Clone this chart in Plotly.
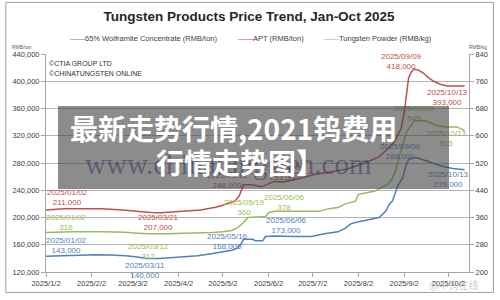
import plotly.graph_objects as go

# ---------------- DATA ----------------
wolf_dates = ['2025-01-02', '2025-01-15', '2025-01-25', '2025-02-05', '2025-02-15', '2025-02-25',
              '2025-03-05', '2025-03-11', '2025-03-20', '2025-03-28', '2025-04-05', '2025-04-15',
              '2025-04-25', '2025-05-02', '2025-05-08', '2025-05-12', '2025-05-14', '2025-05-16',
              '2025-05-22', '2025-05-24', '2025-05-29', '2025-05-31', '2025-06-06', '2025-06-20',
              '2025-07-01', '2025-07-10', '2025-07-19', '2025-07-24', '2025-07-28', '2025-08-03',
              '2025-08-10', '2025-08-16', '2025-08-19', '2025-08-21', '2025-08-23', '2025-08-25',
              '2025-08-27', '2025-08-29', '2025-09-01', '2025-09-03', '2025-09-05', '2025-09-09',
              '2025-09-12', '2025-09-16', '2025-09-20', '2025-09-25', '2025-09-30', '2025-10-05',
              '2025-10-13']
wolf_values = [143000, 144000, 145500, 145500, 145000, 144000,
               142000, 140000, 140000, 141000, 142500, 144000,
               147000, 150000, 152000, 155000, 160000, 168000,
               168000, 166000, 166000, 172000, 173000, 172000,
               172000, 176000, 179000, 184000, 191000, 194000,
               197000, 200000, 206000, 211000, 220000, 224000,
               236000, 248000, 258000, 275000, 285000, 288000,
               287000, 284000, 280000, 277000, 274000, 272000,
               270000]

apt_dates = ['2025-01-02', '2025-01-14', '2025-01-27', '2025-02-09', '2025-02-23', '2025-03-05',
             '2025-03-14', '2025-03-21', '2025-04-02', '2025-04-17', '2025-04-27', '2025-05-02',
             '2025-05-10', '2025-05-13', '2025-05-16', '2025-05-22', '2025-05-28', '2025-06-02',
             '2025-06-06', '2025-06-12', '2025-06-21', '2025-07-03', '2025-07-13', '2025-07-25',
             '2025-08-05', '2025-08-16', '2025-08-21', '2025-08-25', '2025-08-27', '2025-08-31',
             '2025-09-02', '2025-09-03', '2025-09-04', '2025-09-05', '2025-09-07', '2025-09-09',
             '2025-09-12', '2025-09-15', '2025-09-18', '2025-09-22', '2025-09-26', '2025-10-01',
             '2025-10-13']
apt_values = [211000, 213000, 213000, 213000, 211000, 209000,
              207500, 207000, 209000, 211000, 215000, 218000,
              224000, 231000, 248000, 248000, 245000, 249000,
              253000, 252000, 256000, 263000, 267000, 271000,
              279000, 289000, 299000, 307000, 314000, 331000,
              353000, 371000, 391000, 405000, 414000, 418000,
              416000, 412000, 406000, 400000, 396000, 393000,
              393000]

powder_dates = ['2025-01-02', '2025-01-20', '2025-02-10', '2025-02-25', '2025-03-05', '2025-03-12',
                '2025-03-25', '2025-04-10', '2025-04-25', '2025-05-02', '2025-05-08', '2025-05-12',
                '2025-05-16', '2025-05-19', '2025-05-31', '2025-06-02', '2025-06-06', '2025-07-06',
                '2025-07-13', '2025-07-19', '2025-07-24', '2025-07-31', '2025-08-02', '2025-08-09',
                '2025-08-13', '2025-08-17', '2025-08-20', '2025-08-22', '2025-08-25', '2025-08-27',
                '2025-08-31', '2025-09-02', '2025-09-04', '2025-09-07', '2025-09-09', '2025-09-17',
                '2025-09-21', '2025-09-25', '2025-09-30', '2025-10-08', '2025-10-13']
powder_values = [316, 318, 318, 317, 314, 312,
                 312, 313, 316, 318, 322, 330,
                 345, 360, 363, 374, 378, 378,
                 386, 389, 400, 408, 428, 434,
                 437, 446, 452, 458, 475, 494,
                 560, 589, 614, 632, 645, 643,
                 637, 629, 626, 626, 615]

x_tick_dates = ['2025-01-02', '2025-02-02', '2025-03-02', '2025-04-02', '2025-05-02',
                '2025-06-02', '2025-07-02', '2025-08-02', '2025-09-02', '2025-10-02']
x_tick_labels = ['2025/1/2', '2025/2/2', '2025/3/2', '2025/4/2', '2025/5/2',
                 '2025/6/2', '2025/7/2', '2025/8/2', '2025/9/2', '2025/10/2']
left_ticks = [120000, 160000, 200000, 240000, 280000, 320000, 360000, 400000, 440000]
right_ticks = [200, 280, 360, 440, 520, 600, 680, 760, 840]

wolf_label_dates = ['2025-01-02', '2025-03-11', '2025-05-16', '2025-06-06', '2025-09-09', '2025-10-13']
apt_label_dates = ['2025-01-02', '2025-03-21', '2025-05-16', '2025-06-06', '2025-09-09', '2025-10-13']
powder_label_dates = ['2025-01-02', '2025-03-12', '2025-05-19', '2025-06-06', '2025-09-09', '2025-10-13']

series_names = ['65% Wolframite Concentrate (RMB/ton)', 'APT (RMB/ton)', 'Tungsten Powder (RMB/kg)']
title_text = 'Tungsten Products Price Trend, Jan-Oct 2025'

# ---------------- STYLE ----------------
W, H = 500, 300
ML, MR, MT, MB = 42, 26, 54, 22
PW, PH = W - ML - MR, H - MT - MB
BLUE, RED, GREEN = '#4f81bd', '#c0504d', '#9bbb59'
TXT = '#404040'
FONT = 'Liberation Sans, Arial, sans-serif'

# label offsets (pixels) per labelled point
wolf_offsets = [(20, 11), (-1, -12), (-16, -2), (12, 10), (-14, 6), (-16, -10)]
apt_offsets = [(21, 13), (-2, -10), (-16, 4), (10, 9), (-13, 7), (-17, -11)]
powder_offsets = [(20, 10), (1, -18), (-3, 10), (10, 9), (0, 7), (-18, -8)]


def P(x, y):
    return dict(x=(x - ML) / PW, y=(H - MB - y) / PH, xref='paper', yref='paper')


fig = go.Figure()
fig.add_trace(go.Scatter(x=wolf_dates, y=wolf_values, name=series_names[0], mode='lines',
                         line=dict(color=BLUE, width=1.5), yaxis='y', hoverinfo='skip'))
fig.add_trace(go.Scatter(x=apt_dates, y=apt_values, name=series_names[1], mode='lines',
                         line=dict(color=RED, width=1.5), yaxis='y', hoverinfo='skip'))
fig.add_trace(go.Scatter(x=powder_dates, y=powder_values, name=series_names[2], mode='lines',
                         line=dict(color=GREEN, width=1.5), yaxis='y2', hoverinfo='skip'))

annotations = []


def add_labels(dates, values, label_dates, offsets, color, yref, fmt):
    for d, (dx, dy) in zip(label_dates, offsets):
        v = values[dates.index(d)]
        annotations.append(dict(x=d, y=v, xref='x', yref=yref, showarrow=False,
                                text=d.replace('-', '/') + '<br>' + fmt(v),
                                xshift=dx, yshift=dy, font=dict(size=8, color=color, family=FONT)))


add_labels(apt_dates, apt_values, apt_label_dates, apt_offsets, RED, 'y', lambda v: f'{v:,.0f}')
add_labels(powder_dates, powder_values, powder_label_dates, powder_offsets, '#9bbb59', 'y2', lambda v: f'{v:.0f}')
add_labels(wolf_dates, wolf_values, wolf_label_dates, wolf_offsets, BLUE, 'y', lambda v: f'{v:,.0f}')

# copyright
annotations.append(dict(**P(43, 64), text='©CTIA GROUP LTD', showarrow=False, xanchor='left',
                        yanchor='middle', font=dict(size=7, color='#303030', family=FONT)))
annotations.append(dict(**P(43, 74), text='©CHINATUNGSTEN ONLINE', showarrow=False, xanchor='left',
                        yanchor='middle', font=dict(size=7, color='#303030', family=FONT)))
# unit labels
annotations.append(dict(**P(17, 47), text='RMB/ton', showarrow=False, xanchor='center',
                        yanchor='middle', font=dict(size=5, color='#606060', family=FONT)))
annotations.append(dict(**P(483, 47), text='RMB/kg', showarrow=False, xanchor='center',
                        yanchor='middle', font=dict(size=5, color='#606060', family=FONT)))
# legend
for name, col, px in zip(series_names, [BLUE, RED, GREEN], [64, 236, 324]):
    annotations.append(dict(**P(px, 38), showarrow=False, xanchor='left', yanchor='middle',
                            text=f"<span style='color:{col}'>——</span>{name}",
                            font=dict(size=7.5, color=TXT, family=FONT)))
# watermark
annotations.append(dict(**P(228, 167), text='www.chinatungsten.com', showarrow=False,
                        xanchor='center', yanchor='middle',
                        font=dict(size=29, color='rgba(40,40,160,0.55)', family='Liberation Serif, serif')))
annotations.append(dict(**P(458, 291), text='@中钨在线', showarrow=False,
                        xanchor='center', yanchor='middle',
                        font=dict(size=10, color='rgba(170,170,170,0.6)', family='Noto Sans CJK SC')))
# overlay box
annotations.append(dict(**P(54, 107), text=' ', showarrow=False, xanchor='left', yanchor='top',
                        width=391, height=83, bgcolor='rgba(64,64,64,0.6)', borderpad=0, borderwidth=0))
# overlay title text
annotations.append(dict(**P(233, 130), text='最新走势行情,2021钨费用', showarrow=False,
                        xanchor='center', yanchor='middle',
                        font=dict(size=28, color='white', family='Noto Sans CJK SC', weight='bold')))
annotations.append(dict(**P(240, 165), text='行情走势图】', showarrow=False,
                        xanchor='center', yanchor='middle',
                        font=dict(size=28, color='white', family='Noto Sans CJK SC', weight='bold')))

axis_common = dict(showgrid=False, linecolor='#a6a6a6', linewidth=1, ticks='outside', ticklen=4,
                   tickcolor='#a6a6a6', tickfont=dict(size=7.5, color=TXT, family=FONT), zeroline=False)

fig.update_layout(
    width=W, height=H, margin=dict(l=ML, r=MR, t=MT, b=MB),
    paper_bgcolor='white', plot_bgcolor='white', showlegend=False,
    title=dict(text=f'<b>{title_text}</b>', x=0.498, xanchor='center', y=1 - 16 / H, yanchor='middle',
               font=dict(size=13.5, color='#262626', family='Liberation Sans Narrow, Arial Narrow, sans-serif')),
    xaxis=dict(type='date', range=['2025-01-02', '2025-10-16'], tickvals=x_tick_dates,
               ticktext=x_tick_labels, **axis_common),
    yaxis=dict(range=[120000, 440000], tickvals=left_ticks, tickformat=',', **{**axis_common, 'showgrid': True},
               gridcolor='#b4b4b4', gridwidth=1),
    yaxis2=dict(range=[200, 840], tickvals=right_ticks, overlaying='y', side='right', **axis_common),
    annotations=annotations,
    shapes=[dict(type='rect', xref='paper', yref='paper', x0=(1 - ML) / PW, x1=(499 - ML) / PW,
                 y0=(H - MB - 299) / PH, y1=(H - MB - 1) / PH, line=dict(color='#a0a0a0', width=1),
                 fillcolor='rgba(0,0,0,0)', layer='below')],
)

fig.write_html('out.html')
